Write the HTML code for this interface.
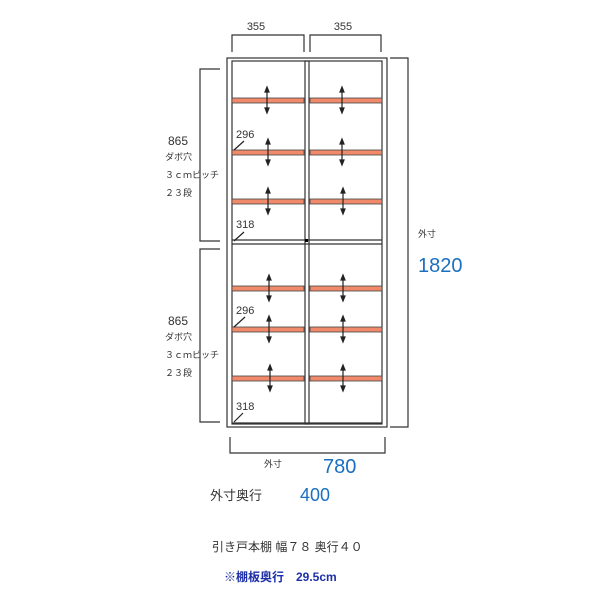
<html><body style="margin:0;width:600px;height:600px;background:#fff;position:relative;font-family:'Liberation Sans','Noto Sans CJK JP',sans-serif;overflow:hidden">
<svg width="600" height="600" style="position:absolute;left:0;top:0" font-family="'Liberation Sans','Noto Sans CJK JP',sans-serif">
<defs><g id="a" stroke="#222" stroke-width="1.2" fill="#222"><path d="M0 -12V12"/><path d="M-2 -8L0 -13L2 -8Z M-2 8L0 13L2 8Z"/></g></defs>
<g stroke="#333" fill="none" stroke-width="1.2">
<path d="M232 52V35H304V52M310 52V35H381V52"/>
<path d="M220 69H200V241H220M220 249H200V422H220"/>
<path d="M390 58H408V427H390"/>
<path d="M230 437V453H385V437"/>
<rect x="227" y="58" width="160" height="369"/>
<rect x="232" y="61" width="150" height="363"/>
<rect x="305" y="61" width="4" height="363"/>
<path d="M232 240H382M232 244H382M232 423H382"/>
</g>
<rect x="305" y="239" width="3" height="3" fill="#000"/>
<g fill="#f08a6a" stroke="#444" stroke-width="0.8">
<rect x="232" y="98" width="72" height="5"/><rect x="310" y="98" width="72" height="5"/>
<rect x="232" y="150" width="72" height="5"/><rect x="310" y="150" width="72" height="5"/>
<rect x="232" y="199" width="72" height="5"/><rect x="310" y="199" width="72" height="5"/>
<rect x="232" y="286" width="72" height="5"/><rect x="310" y="286" width="72" height="5"/>
<rect x="232" y="327" width="72" height="5"/><rect x="310" y="327" width="72" height="5"/>
<rect x="232" y="376" width="72" height="5"/><rect x="310" y="376" width="72" height="5"/>
</g>
<use href="#a" x="267" y="100"/><use href="#a" x="342" y="100"/>
<use href="#a" x="268" y="152"/><use href="#a" x="342" y="152"/>
<use href="#a" x="268" y="201"/><use href="#a" x="343" y="201"/>
<use href="#a" x="269" y="288"/><use href="#a" x="343" y="288"/>
<use href="#a" x="269" y="329"/><use href="#a" x="343" y="329"/>
<use href="#a" x="270" y="378"/><use href="#a" x="343" y="378"/>
<path d="M234 150L244 141M234 241L244 232M234 327L245 317M234 422L243 413" stroke="#222" stroke-width="1.2" fill="none"/>
<g font-size="11" fill="#333">
<text x="256" y="30" text-anchor="middle">355</text>
<text x="343" y="30" text-anchor="middle">355</text>
<text x="236" y="138">296</text><text x="236" y="228">318</text>
<text x="236" y="314">296</text><text x="236" y="410">318</text>
<text x="168" y="145" font-size="12">865</text>
<text x="168" y="325" font-size="12">865</text>
</g>
<g font-size="9" fill="#333">
<text x="165" y="160">ダボ穴</text><text x="165" y="178">３ｃｍピッチ</text><text x="165" y="196">２３段</text>
<text x="165" y="340">ダボ穴</text><text x="165" y="358">３ｃｍピッチ</text><text x="165" y="376">２３段</text>
<text x="418" y="237">外寸</text>
<text x="264" y="467">外寸</text>
</g>
<g fill="#1a6fc0" font-size="20">
<text x="418" y="272">1820</text>
<text x="323" y="473">780</text>
<text x="300" y="501" font-size="18">400</text>
</g>
<text x="210" y="500" font-size="13" fill="#333">外寸奥行</text>
<text x="212" y="551" font-size="12" fill="#333">引き戸本棚 幅７８ 奥行４０</text>
<text x="224" y="581" font-size="12" fill="#1d2fa8" font-weight="bold">※棚板奥行　29.5cm</text>
</svg>
</body></html>
